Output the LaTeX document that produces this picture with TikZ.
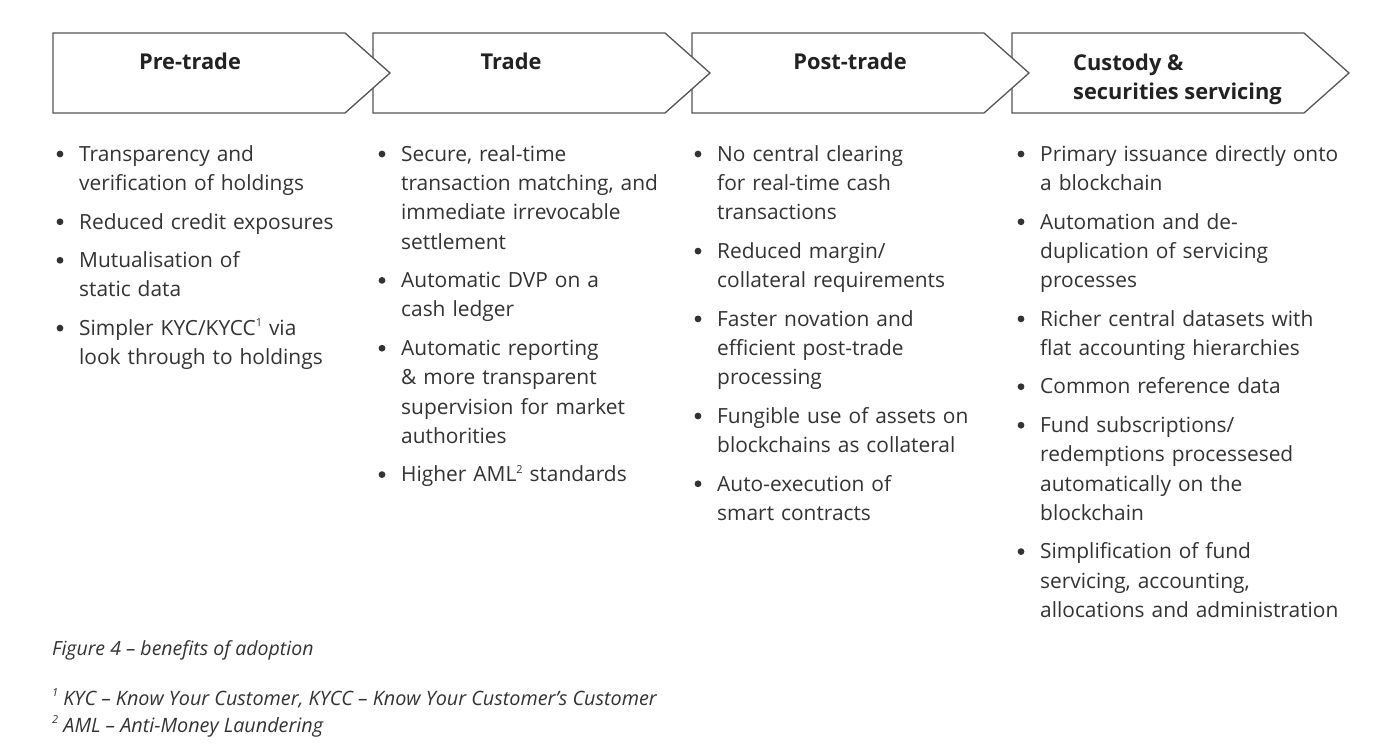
\documentclass[tikz,border=0pt]{standalone}
\usepackage{fontspec}
\setmainfont{Open Sans}
\definecolor{txt}{HTML}{333333}
\definecolor{hdr}{HTML}{222222}
\definecolor{edge}{HTML}{555555}
\newcommand\bitem[4]{%
  \fill[txt] (#2-19,#3-7) circle (3.4);
  \node[itemtext] (#1) at (#2,#3-20.5) {\strut #4};
}
\newcommand\fnmark[1]{\raisebox{0.42em}{\fontsize{11}{11}\selectfont #1}}
\begin{document}
\begin{tikzpicture}[x=1pt,y=-1pt,
  chevron/.style={draw=edge,line width=1.3pt,fill=white,line join=miter},
  hdrtext/.style={font=\fontsize{21.8}{29.5}\selectfont\bfseries,text=hdr,inner sep=0pt},
  itemtext/.style={font=\fontsize{20.9}{29.3}\selectfont,text=txt,inner sep=0pt,anchor=north west,text width=330pt,align=left},
  captext/.style={font=\fontsize{19.5}{26}\selectfont\itshape,text=txt,inner sep=0pt,anchor=base west}]
\useasboundingbox[fill=white] (0,0) rectangle (1400,754);
% chevrons, drawn right to left so each tip covers the next box's edge
\foreach \L/\n in {1012/d,692/c,373/b,53/a}{
  \draw[chevron] (\L,33) -- (\L+292,33) -- (\L+337,73) -- (\L+292,113) -- (\L,113) -- cycle;
}
\node[hdrtext,anchor=base] (h1) at (190,70) {Pre-trade};
\node[hdrtext,anchor=base] (h2) at (511,70) {Trade};
\node[hdrtext,anchor=base] (h3) at (850,70) {Post-trade};
\node[hdrtext,anchor=north west,align=left] (h4) at (1073,70-20.65) {\strut Custody \&\\securities servicing};
% column 1
\bitem{a1}{79}{161}{Transparency and\\verification of holdings}
\bitem{a2}{79}{228.8}{Reduced credit exposures}
\bitem{a3}{79}{267.3}{Mutualisation of\\static data}
\bitem{a4}{79}{335.1}{Simpler KYC/KYCC\fnmark{1} via\\look through to holdings}
% column 2
\bitem{b1}{401}{161}{Secure, real-time\\transaction matching, and\\immediate irrevocable\\settlement}
\bitem{b2}{401}{287.4}{Automatic DVP on a\\cash ledger}
\bitem{b3}{401}{355.2}{Automatic reporting\\\& more transparent\\supervision for market\\authorities}
\bitem{b4}{401}{481.6}{Higher AML\fnmark{2} standards}
% column 3
\bitem{c1}{717}{161}{No central clearing\\for real-time cash\\transactions}
\bitem{c2}{717}{258.1}{Reduced margin/\\collateral requirements}
\bitem{c3}{717}{325.9}{Faster novation and\\efficient post-trade\\processing}
\bitem{c4}{717}{423}{Fungible use of assets on\\blockchains as collateral}
\bitem{c5}{717}{490.8}{Auto-execution of\\smart contracts}
% column 4
\bitem{d1}{1040}{161}{Primary issuance directly onto\\a blockchain}
\bitem{d2}{1040}{228.8}{Automation and de-\\duplication of servicing\\processes}
\bitem{d3}{1040}{325.9}{Richer central datasets with\\flat accounting hierarchies}
\bitem{d4}{1040}{393.7}{Common reference data}
\bitem{d5}{1040}{432.2}{Fund subscriptions/\\redemptions processesed\\automatically on the\\blockchain}
\bitem{d6}{1040}{558.6}{Simplification of fund\\servicing, accounting,\\allocations and administration}
% caption and footnotes
\node[captext] (cap) at (52,655) {Figure 4 – benefits of adoption};
\node[captext,font=\fontsize{19.8}{26}\selectfont\itshape] (fn1) at (52,705) {\fnmark{1} KYC – Know Your Customer, KYCC – Know Your Customer’s Customer};
\node[captext,font=\fontsize{19.8}{26}\selectfont\itshape] (fn2) at (52,732) {\fnmark{2} AML – Anti-Money Laundering};
\end{tikzpicture}
\end{document}
